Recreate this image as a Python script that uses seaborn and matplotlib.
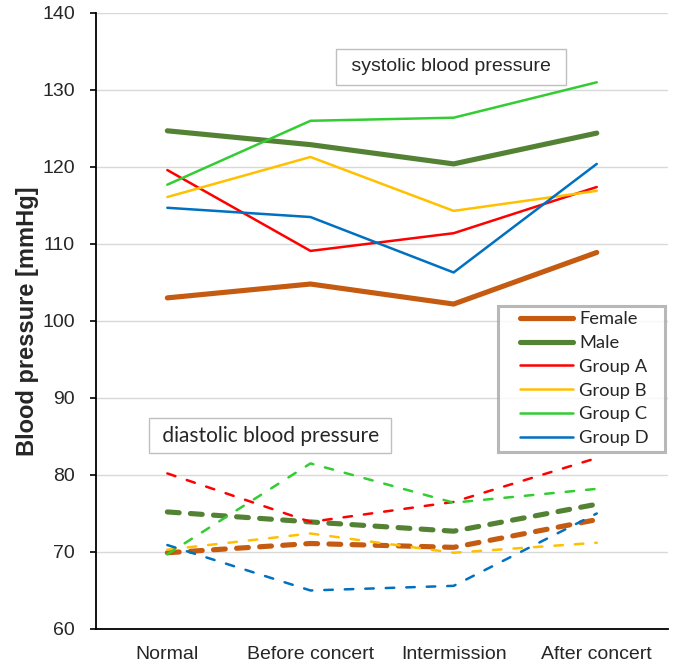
import matplotlib
matplotlib.use("Agg")
import matplotlib.pyplot as plt
from matplotlib.lines import Line2D
from matplotlib.legend_handler import HandlerLine2D
import seaborn as sns
import pandas as pd

categories = ["Normal", "Before concert", "Intermission", "After concert"]
series_names = ["Female", "Male", "Group A", "Group B", "Group C", "Group D"]

sys_female = [103.0, 104.8, 102.2, 108.9]
sys_male = [124.7, 122.9, 120.4, 124.4]
sys_a = [119.6, 109.1, 111.4, 117.4]
sys_b = [116.1, 121.3, 114.3, 116.9]
sys_c = [117.7, 126.0, 126.4, 131.0]
sys_d = [114.7, 113.5, 106.3, 120.4]

dia_female = [69.9, 71.1, 70.6, 74.2]
dia_male = [75.2, 73.9, 72.7, 76.2]
dia_a = [80.2, 73.9, 76.5, 82.2]
dia_b = [70.3, 72.4, 69.9, 71.2]
dia_c = [69.7, 81.5, 76.4, 78.2]
dia_d = [70.9, 65.0, 65.6, 75.0]

y_ticks = [60, 70, 80, 90, 100, 110, 120, 130, 140]

systolic = [sys_female, sys_male, sys_a, sys_b, sys_c, sys_d]
diastolic = [dia_female, dia_male, dia_a, dia_b, dia_c, dia_d]

colors = ["#C55A11", "#548235", "#FF0000", "#FFC000", "#33CC33", "#0070C0"]
widths = [3.7, 3.7, 1.8, 1.8, 1.8, 1.8]

sns.set_style("white")
plt.rcParams["font.family"] = ["Liberation Sans", "DejaVu Sans"]

fig = plt.figure(figsize=(6.89, 6.66), dpi=100)
ax = fig.add_axes([0.139, 0.0556, 0.831, 0.9249])

for name, vals, c, w in zip(series_names, diastolic, colors, widths):
    df = pd.DataFrame({"x": range(len(categories)), "y": vals})
    dash = (0, (3.4, 4.8)) if w < 3 else (0, (2.3, 2.2))
    sns.lineplot(data=df, x="x", y="y", ax=ax, color=c, linewidth=w,
                 linestyle=dash, legend=False, dash_capstyle="round",
                 solid_capstyle="round")

for name, vals, c, w in zip(series_names, systolic, colors, widths):
    df = pd.DataFrame({"x": range(len(categories)), "y": vals})
    sns.lineplot(data=df, x="x", y="y", ax=ax, color=c, linewidth=w,
                 label=name, solid_capstyle="round")

ax.set_xlim(-0.5, 3.5)
ax.set_ylim(60, 140)
ax.set_xticks(range(len(categories)))
ax.set_xticklabels(categories, fontsize=14)
ax.set_yticks(y_ticks)
ax.set_yticklabels([str(t) for t in y_ticks], fontsize=14)
ax.yaxis.grid(True, color="#D9D9D9", linewidth=1.0)
ax.xaxis.grid(False)
ax.set_axisbelow(True)
ax.set_xlabel("")
ax.set_ylabel("Blood pressure [mmHg]", fontsize=17, fontweight="bold", labelpad=2)
for s in ["top", "right"]:
    ax.spines[s].set_visible(False)
for s in ["left", "bottom"]:
    ax.spines[s].set_color("black")
    ax.spines[s].set_linewidth(1.3)
ax.tick_params(axis="y", left=True, length=4, width=1.2, color="black", pad=11)
ax.tick_params(axis="x", bottom=False, pad=8.5)

leg = ax.legend(loc="upper left",
                bbox_to_anchor=(498 / 689, 1 - 449 / 666, 167 / 689, 143 / 666),
                bbox_transform=fig.transFigure, borderaxespad=0, mode="expand",
                frameon=True, fancybox=False, edgecolor="#A6A6A6",
                prop={"family": ["Lato", "DejaVu Sans"], "size": 13.2},
                handlelength=3.8, handletextpad=0.33, labelspacing=0.42,
                borderpad=0.3,
                handler_map={Line2D: HandlerLine2D(xpad=0.9)})
leg.get_frame().set_linewidth(2.2)

ax.text(1.98, 133.0, " systolic blood pressure ", ha="center", va="center",
        fontsize=14, family=["Liberation Sans", "DejaVu Sans"],
        bbox=dict(boxstyle="square,pad=0.5", facecolor="white",
                  edgecolor="#BFBFBF", linewidth=1.0))
ax.text(0.72, 85.1, " diastolic blood pressure ", ha="center", va="center",
        fontsize=15, family=["Lato", "DejaVu Sans"],
        bbox=dict(boxstyle="square,pad=0.35", facecolor="white",
                  edgecolor="#BFBFBF", linewidth=1.0))

fig.savefig("out.png", dpi=100)
